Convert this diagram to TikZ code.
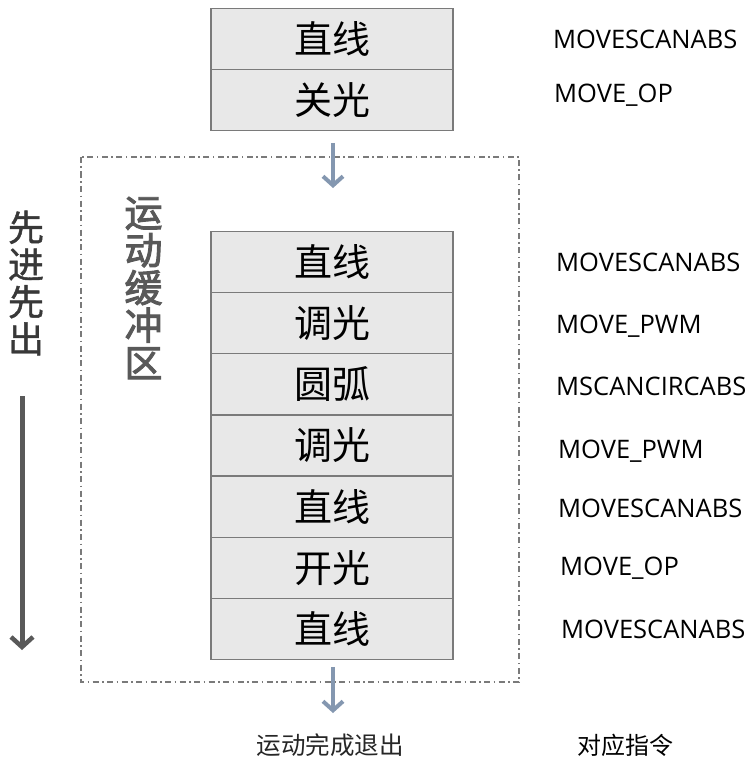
\documentclass[tikz,border=0pt]{standalone}
\usepackage{fontspec}
\setmainfont{Noto Sans CJK SC}
\newfontfamily\cmdfont{Open Sans}
\newfontfamily\sidefont[FakeBold=1.2]{Noto Sans CJK SC}
\newfontfamily\zonefont[FakeBold=2.5]{Noto Sans CJK SC}
\usepackage{tikz}
\usetikzlibrary{matrix, positioning, arrows.meta}

\definecolor{cellfill}{HTML}{E8E8E8}
\definecolor{cellline}{HTML}{7A7A7A}
\definecolor{flowblue}{HTML}{8497B0}
\definecolor{darkgrey}{HTML}{595959}

\tikzset{
  stack/.style = {
    matrix of nodes,
    column sep = 0pt,
    row sep = -1.5pt,
    nodes = {
      rectangle, draw = cellline, fill = cellfill, line width = 1.5pt,
      minimum width = 242pt, minimum height = 61.2pt,
      outer sep = 0pt, inner sep = 0pt, anchor = center,
      font = \fontsize{38}{40}\selectfont
    }},
  cmd/.style = {anchor = west, inner sep = 0pt,
    font = \cmdfont\fontsize{25.5}{28}\selectfont},
  flow/.style = {draw = flowblue, line width = 4.5pt,
    -{Straight Barb[length = 9pt, width = 20pt, line width = 4pt]}},
  bufferline/.style = {draw = cellline, line width = 1.5pt,
    dash pattern = on 6pt off 3.5pt on 1.5pt off 3.5pt},
  vtext/.style = {align = center, inner sep = 0pt}
}

\begin{document}
\begin{tikzpicture}[x = 1pt, y = -1pt]
  \useasboundingbox (0,0) rectangle (752,762);

  % buffer outline
  \draw [bufferline] (81,157) rectangle (519,682);

  % commands waiting to enter the buffer
  \matrix (pending) [stack] at (332,69.5) {
    直线 \\
    关光 \\
  };

  % commands inside the buffer
  \matrix (buf) [stack] at (332,445.5) {
    直线 \\
    调光 \\
    圆弧 \\
    调光 \\
    直线 \\
    开光 \\
    直线 \\
  };

  % matching instructions
  \node [cmd, right = 100pt of pending-1-1] (c0) {MOVESCANABS};
  \node [cmd, right = 101pt of pending-2-1, yshift = 5pt] (c1) {MOVE\_OP};
  \node [cmd, right = 103pt of buf-1-1] (c2) {MOVESCANABS};
  \node [cmd, right = 103pt of buf-2-1, yshift = -3pt] (c3) {MOVE\_PWM};
  \node [cmd, right = 103pt of buf-3-1, yshift = -2pt] (c4) {MSCANCIRCABS};
  \node [cmd, right = 105pt of buf-4-1, yshift = -6pt] (c5) {MOVE\_PWM};
  \node [cmd, right = 105pt of buf-5-1, yshift = -2pt] (c6) {MOVESCANABS};
  \node [cmd, right = 107pt of buf-6-1] (c7) {MOVE\_OP};
  \node [cmd, right = 108pt of buf-7-1] (c8) {MOVESCANABS};

  % flow in and out
  \coordinate (inTip) at (333,188);
  \coordinate (outTip) at (333,713);
  \draw [flow] ([yshift = -8pt] pending.south -| inTip) -- (inTip);
  \draw [flow] ([yshift = -3pt] buf.south -| outTip) -- (outTip);

  \node [font = \fontsize{24.5}{27}\selectfont, text = black!85] (done) at (330,745) {运动完成退出};
  \node [font = \fontsize{24}{27}\selectfont] (title) at (625,745) {对应指令};

  % side captions
  \node [vtext, text = black!78, font = \sidefont\fontsize{36}{37.2}\selectfont]
    (fifo) at (26,283) {先\\进\\先\\出};
  \node [vtext, text = darkgrey, font = \zonefont\fontsize{38}{37.6}\selectfont]
    (zone) at (143.5,288) {运\\动\\缓\\冲\\区};

  \coordinate (fifoStart) at (22,396);
  \coordinate (fifoEnd) at (22,650);
  \draw [draw = darkgrey, line width = 5pt,
    -{Straight Barb[length = 10pt, width = 22pt, line width = 4.5pt]}]
    (fifoStart) -- (fifoEnd);
\end{tikzpicture}
\end{document}
